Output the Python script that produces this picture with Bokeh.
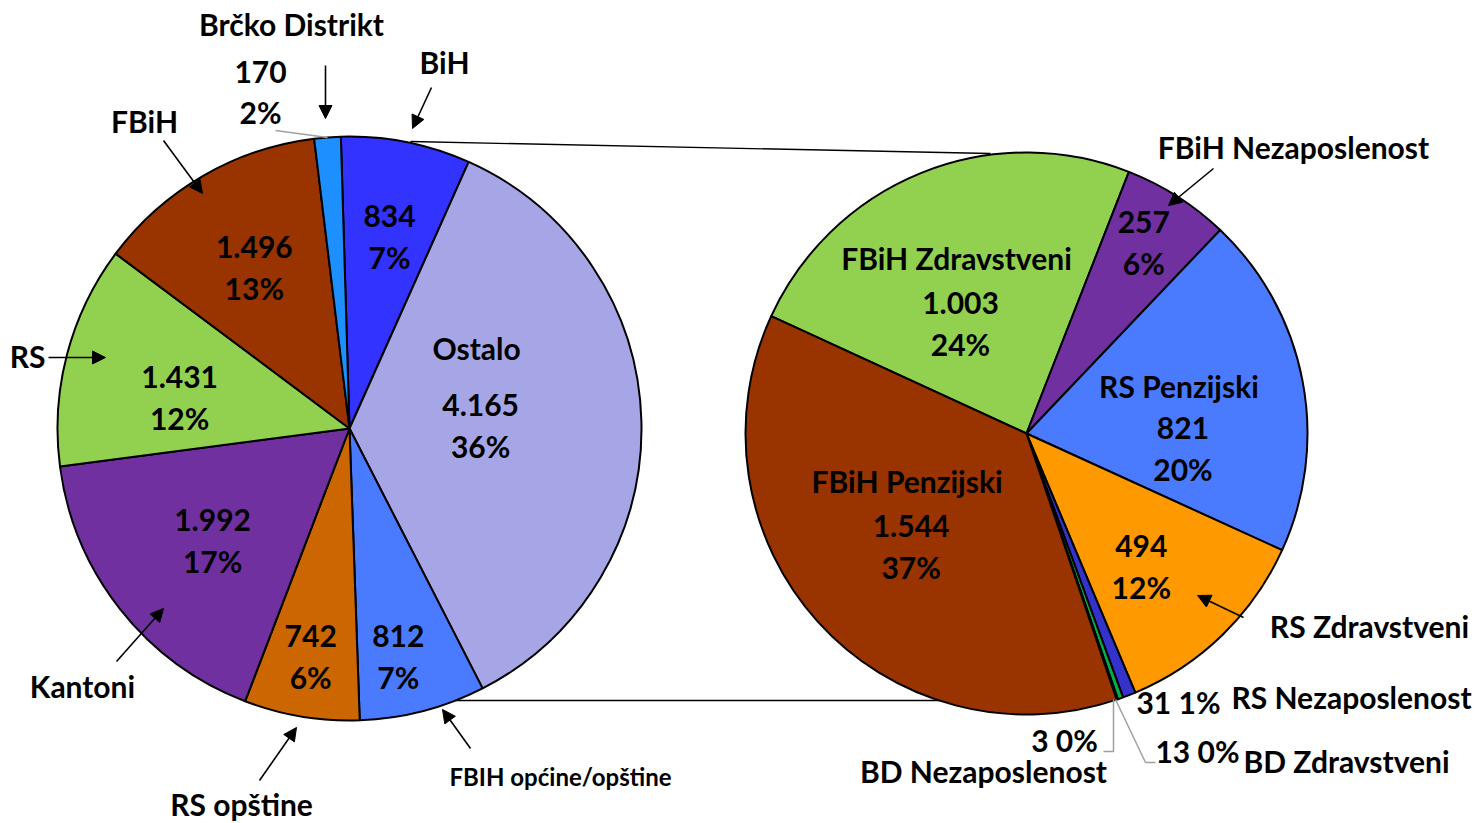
import math
from bokeh.plotting import figure
from bokeh.models import ColumnDataSource, Arrow, NormalHead
from bokeh.core.properties import value
from bokeh.embed import file_html
from bokeh.resources import INLINE

# ---------------- data ----------------
main_names = ["BiH", "Ostalo", "FBIH općine/opštine", "RS opštine", "Kantoni", "RS", "FBiH", "Brčko Distrikt"]
main_values = [834, 4165, 812, 742, 1992, 1431, 1496, 170]
main_pcts = ["7%", "36%", "7%", "6%", "17%", "12%", "13%", "2%"]
main_colors = ["#3333FF", "#A6A6E6", "#4A7BFF", "#CC6600", "#7030A0", "#92D050", "#993300", "#1E8FFF"]

sub_names = ["FBiH Zdravstveni", "FBiH Nezaposlenost", "RS Penzijski", "RS Zdravstveni",
             "RS Nezaposlenost", "BD Zdravstveni", "BD Nezaposlenost", "FBiH Penzijski"]
sub_values = [1003, 257, 821, 494, 31, 13, 3, 1544]
sub_pcts = ["24%", "6%", "20%", "12%", "1%", "0%", "0%", "37%"]
sub_colors = ["#92D050", "#7030A0", "#4A7BFF", "#FF9900", "#3333CC", "#00B050", "#0070C0", "#993300"]

# ---------------- layout ----------------
W, H = 1479, 823
FONT = value("Lato")
TEXT_DY = -2  # small vertical correction for font metrics


def X(px):
    return px


def Y(py):
    return H - py


def fmt(v):
    return f"{v:,}".replace(",", ".")


p = figure(width=W, height=H, x_range=(0, W), y_range=(0, H), output_backend="svg",
           toolbar_location=None, x_axis_type=None, y_axis_type=None, min_border=0)
p.outline_line_color = None
p.grid.visible = False
p.background_fill_color = "white"
p.border_fill_color = "white"


def pie(center, radius, rot, values, colors):
    total = sum(values)
    cx, cy = center
    starts, ends, mids = [], [], []
    acc = 0.0
    for v in values:
        s = rot + acc / total * 360
        acc += v
        e = rot + acc / total * 360
        starts.append(math.radians(90 - s))
        ends.append(math.radians(90 - e))
        mids.append((s + e) / 2)
    src = ColumnDataSource(dict(x=[X(cx)] * len(values), y=[Y(cy)] * len(values),
                                sa=starts, ea=ends, color=colors))
    p.wedge(x="x", y="y", radius=radius, start_angle="sa", end_angle="ea", direction="clock",
            fill_color="color", line_color="black", line_width=2, source=src)
    return mids


def polar(center, r, deg):
    cx, cy = center
    return cx + r * math.sin(math.radians(deg)), cy - r * math.cos(math.radians(deg))


texts = dict(x=[], y=[], t=[])
narrow = dict(x=[], y=[], t=[])


def put(t, px, py, store=texts):
    store["x"].append(X(px))
    store["y"].append(Y(py + TEXT_DY))
    store["t"].append(t)


L_C, L_R, L_ROT = (349, 428), 292, -1.7
R_C, R_R, R_ROT = (1026, 433), 281, -65.3

# connector lines (pie of pie)
p.line([X(410), X(990)], [Y(141), Y(153)], line_color="black", line_width=1.3)
p.line([X(455), X(1113)], [Y(700), Y(700)], line_color="black", line_width=1.3)

lm = pie(L_C, L_R, L_ROT, main_values, main_colors)
rm = pie(R_C, R_R, R_ROT, sub_values, sub_colors)

# inside labels: radius fraction and angular nudge per slice
main_frac = [0.665, 0.449, 0.805, 0.80, 0.61, 0.59, 0.635, None]
main_nudge = [0.7, 1.1, 2.6, 0.1, -1.5, -5.0, -0.8, 0]
main_title_gap = [None, 78, None, None, None, None, None, None]
sub_frac = [0.45, 0.79, 0.56, 0.63, None, None, None, 0.58]
sub_nudge = [-9.5, -0.6, 17.1, 3.7, 0, 0, 0, -2.9]
sub_title_gap = [66, None, 62, None, None, None, None, 66]

for names, vals, pcts, mids, frac, nud, gap, C, R in [
        (main_names, main_values, main_pcts, lm, main_frac, main_nudge, main_title_gap, L_C, L_R),
        (sub_names, sub_values, sub_pcts, rm, sub_frac, sub_nudge, sub_title_gap, R_C, R_R)]:
    for i in range(len(vals)):
        if frac[i] is None:
            continue
        ax, ay = polar(C, R * frac[i], mids[i] + nud[i])
        put(fmt(vals[i]), ax, ay - 20.5)
        put(pcts[i], ax, ay + 20.5)
        if gap[i] is not None:
            put(names[i], ax - 4, ay - gap[i])

# outside labels
put(main_names[7], 291, 25)
put(fmt(main_values[7]), 260, 73)
put(main_pcts[7], 260, 113)
put(main_names[0], 444, 63)
put(main_names[6], 144, 122)
put(main_names[5], 27, 357)
put(main_names[4], 82, 687)
put(main_names[3], 241, 805)
put(main_names[2], 560, 778, narrow)

put(sub_names[1], 1293, 148)
put(sub_names[3], 1369, 627)
put(f"{sub_values[4]} {sub_pcts[4]}", 1178, 703)
put(sub_names[4], 1351, 698)
put(f"{sub_values[5]} {sub_pcts[5]}", 1197, 752)
put(sub_names[5], 1346, 762)
put(f"{sub_values[6]} {sub_pcts[6]}", 1064, 741)
put(sub_names[6], 983, 772)

p.text(x="x", y="y", text="t", source=ColumnDataSource(texts), text_font=FONT,
       text_font_style="bold", text_font_size="30px", text_align="center",
       text_baseline="middle", text_color="black")
p.text(x="x", y="y", text="t", source=ColumnDataSource(narrow), text_font=FONT,
       text_font_style="bold", text_font_size="24px", text_align="center",
       text_baseline="middle", text_color="black")

# gray leader lines
gray = "#A0A0A0"
p.line([X(275), X(327)], [Y(130), Y(137)], line_color=gray, line_width=1.5)
p.line([X(1113), X(1113), X(1103)], [Y(699), Y(751), Y(751)], line_color=gray, line_width=1.5)
p.line([X(1115), X(1145), X(1155)], [Y(699), Y(762), Y(762)], line_color=gray, line_width=1.5)

# arrows
arrows = [
    (325, 65, 325, 118),
    (431, 87, 412, 128),
    (163, 140, 202, 193),
    (48, 357, 105, 357),
    (116, 661, 163, 608),
    (259, 780, 296, 727),
    (470, 748, 442, 709),
    (1213, 168, 1168, 205),
    (1243, 617, 1197, 595),
]
for x0, y0, x1, y1 in arrows:
    p.add_layout(Arrow(end=NormalHead(size=13, line_color="black", fill_color="black", line_width=1),
                       x_start=X(x0), y_start=Y(y0), x_end=X(x1), y_end=Y(y1),
                       line_color="black", line_width=1.6))

open("out.html", "w").write(file_html(p, INLINE))
